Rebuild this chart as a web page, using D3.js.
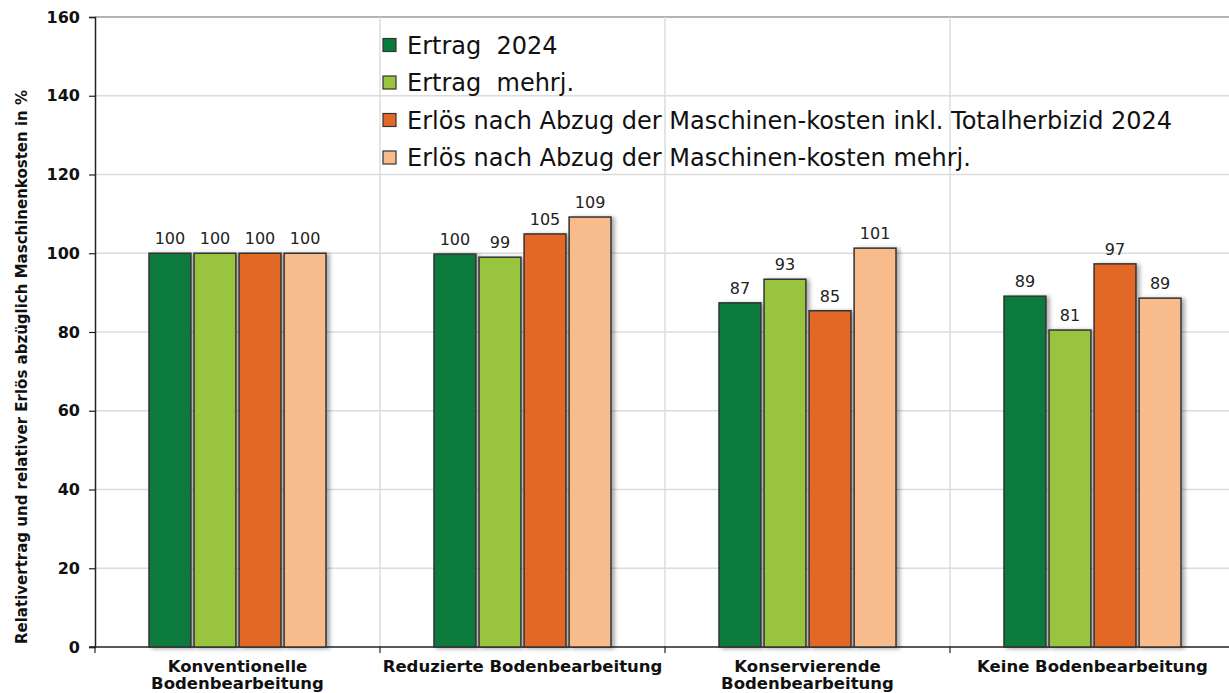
<!DOCTYPE html>
<html>
<head>
<meta charset="utf-8">
<script src="https://cdn.jsdelivr.net/npm/d3@7"></script>
<style>
  body { margin: 0; background: #fff; }
  svg { display: block; font-family: "DejaVu Sans", Verdana, sans-serif; }
</style>
</head>
<body>
<div id="chart"></div>
<script>
// Data
const categories = [
    ["Konventionelle", "Bodenbearbeitung"],
    ["Reduzierte Bodenbearbeitung"],
    ["Konservierende", "Bodenbearbeitung"],
    ["Keine Bodenbearbeitung"]
];
const seriesNames = [
    "Ertrag  2024",
    "Ertrag  mehrj.",
    "Erlös nach Abzug der Maschinen-kosten inkl. Totalherbizid 2024",
    "Erlös nach Abzug der Maschinen-kosten mehrj."
];
const seriesColors = ["#077a3d", "#98c53d", "#e36726", "#f8bc8c"];
// one array per series, in category order
const ertrag2024 = [100, 99.8, 87.4, 89.1];
const ertragMehrj = [100, 99.0, 93.4, 80.5];
const erloes2024 = [100, 104.9, 85.4, 97.3];
const erloesMehrj = [100, 109.2, 101.3, 88.6];
const yTicks = [0, 20, 40, 60, 80, 100, 120, 140, 160];

const seriesValues = [ertrag2024, ertragMehrj, erloes2024, erloesMehrj];

const width = 1229, height = 693;
const margin = { left: 95, top: 17, right: -6, bottom: 46 };

const svg = d3.select("#chart").append("svg")
    .attr("width", width)
    .attr("height", height);

// soft shadow to the right of bars
const defs = svg.append("defs");
const shadow = defs.append("filter").attr("id", "shadow")
    .attr("x", "-20%").attr("y", "-10%").attr("width", "150%").attr("height", "120%");
shadow.append("feDropShadow")
    .attr("dx", 3).attr("dy", 1).attr("stdDeviation", 2)
    .attr("flood-color", "#000").attr("flood-opacity", 0.35);

const x0 = d3.scaleBand()
    .domain(d3.range(categories.length))
    .range([margin.left, width - margin.right]);

const groupWidth = 177;
const x1 = d3.scaleBand()
    .domain(d3.range(seriesNames.length))
    .range([(x0.bandwidth() - groupWidth) / 2, (x0.bandwidth() + groupWidth) / 2])
    .paddingInner(0.07);

const y = d3.scaleLinear()
    .domain([0, 160])
    .range([height - margin.bottom, margin.top]);

// Horizontal gridlines
svg.append("g")
    .selectAll("line")
    .data(yTicks.slice(1))
    .join("line")
    .attr("x1", margin.left).attr("x2", width)
    .attr("y1", d => y(d)).attr("y2", d => y(d))
    .attr("stroke", d => d === 160 ? "#9a9a9a" : "#dcdcdc")
    .attr("stroke-width", 1.5);

// Vertical gridlines at category boundaries
svg.append("g")
    .selectAll("line")
    .data(d3.range(1, categories.length))
    .join("line")
    .attr("x1", d => x0(d)).attr("x2", d => x0(d))
    .attr("y1", margin.top).attr("y2", y(0))
    .attr("stroke", "#dcdcdc")
    .attr("stroke-width", 1.5);

// Y axis
const yAxis = svg.append("g")
    .attr("transform", `translate(${margin.left},0)`)
    .call(d3.axisLeft(y).tickValues(yTicks).tickSize(6).tickPadding(9));
yAxis.select(".domain").attr("stroke", "#222").attr("stroke-width", 1.5);
yAxis.selectAll(".tick line").attr("stroke", "#222").attr("stroke-width", 1.2);
yAxis.selectAll(".tick text")
    .attr("font-family", "DejaVu Sans, Verdana, sans-serif")
    .attr("font-size", 16)
    .attr("font-weight", "bold")
    .attr("fill", "#111");

// X axis line with ticks at boundaries
const xAxis = svg.append("g");
xAxis.append("line")
    .attr("x1", margin.left - 6).attr("x2", width)
    .attr("y1", y(0)).attr("y2", y(0))
    .attr("stroke", "#222").attr("stroke-width", 1.5);
xAxis.selectAll("line.tk")
    .data(d3.range(0, categories.length))
    .join("line")
    .attr("class", "tk")
    .attr("x1", d => x0(d)).attr("x2", d => x0(d))
    .attr("y1", y(0)).attr("y2", y(0) + 6)
    .attr("stroke", "#222").attr("stroke-width", 1.2);

// Category labels
const catLabels = svg.append("g")
    .selectAll("text")
    .data(categories)
    .join("text")
    .attr("x", (d, i) => x0(i) + x0.bandwidth() / 2)
    .attr("y", y(0) + 25)
    .attr("text-anchor", "middle")
    .attr("font-size", 16.5)
    .attr("font-weight", "bold")
    .attr("fill", "#111");
catLabels.selectAll("tspan")
    .data(d => d)
    .join("tspan")
    .attr("x", function () { return d3.select(this.parentNode).attr("x"); })
    .attr("dy", (d, i) => i === 0 ? 0 : 17)
    .text(d => d);

// Y axis title
svg.append("text")
    .attr("transform", "translate(27,367) rotate(-90)")
    .attr("text-anchor", "middle")
    .attr("font-size", 15)
    .attr("font-weight", "bold")
    .attr("fill", "#111")
    .text("Relativertrag und relativer Erlös abzüglich Maschinenkosten in %");

// Bars
const groups = svg.append("g")
    .selectAll("g")
    .data(categories)
    .join("g")
    .attr("transform", (d, i) => `translate(${x0(i)},0)`);

groups.selectAll("rect")
    .data((d, i) => seriesValues.map((s, k) => ({ k, v: s[i] })))
    .join("rect")
    .attr("x", d => x1(d.k))
    .attr("y", d => y(d.v))
    .attr("width", x1.bandwidth())
    .attr("height", d => y(0) - y(d.v))
    .attr("fill", d => seriesColors[d.k])
    .attr("stroke", "#333")
    .attr("stroke-width", 1.5)
    .attr("filter", "url(#shadow)");

groups.selectAll("text")
    .data((d, i) => seriesValues.map((s, k) => ({ k, v: s[i] })))
    .join("text")
    .attr("x", d => x1(d.k) + x1.bandwidth() / 2)
    .attr("y", d => y(d.v) - 9)
    .attr("text-anchor", "middle")
    .attr("font-size", 16)
    .attr("fill", "#222")
    .text(d => Math.round(d.v));

// Legend
const legend = svg.append("g")
    .attr("transform", "translate(383,45)");
const rows = legend.selectAll("g")
    .data(seriesNames)
    .join("g")
    .attr("transform", (d, i) => `translate(0,${i * 37.5})`);
rows.append("rect")
    .attr("x", 0).attr("y", -6.5)
    .attr("width", 13).attr("height", 13)
    .attr("fill", (d, i) => seriesColors[i])
    .attr("stroke", "#333")
    .attr("stroke-width", 1.2);
rows.append("text")
    .attr("x", 24)
    .attr("y", 8.5)
    .attr("font-size", 24)
    .attr("fill", "#111")
    .style("white-space", "pre")
    .text(d => d);
</script>
</body>
</html>
